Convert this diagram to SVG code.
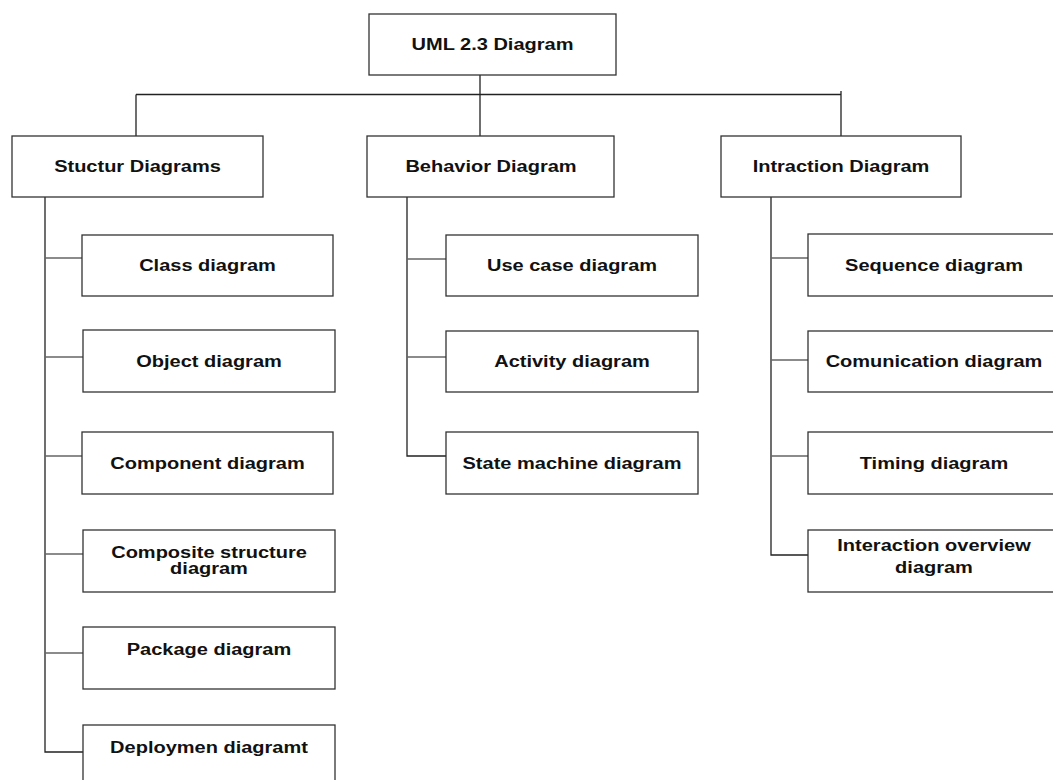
<svg xmlns="http://www.w3.org/2000/svg" width="1053" height="780" viewBox="0 0 1053 780">
<style>
.box{fill:#fff;stroke:#333;stroke-width:1.3}
.lbl{font-family:"Liberation Sans",Arial,sans-serif;font-weight:bold;font-size:16px;fill:#111;text-anchor:middle}
.trunk{stroke:#222;stroke-width:1.3;fill:none}
.br{stroke:#666;stroke-width:1.3;fill:none}
</style>
<rect width="1053" height="780" fill="#fff"/>
<g id="connectors">
<path class="trunk" d="M480,75V136M136,94.5H841M136,94.5V136M841,91V136"/>
<path class="trunk" d="M45,197V752H83"/>
<path class="br" d="M45,258H82M45,357H83M45,456H82M45,554H83M45,653H83"/>
<path class="trunk" d="M407,197V456H446"/>
<path class="br" d="M407,259H446M407,357H446"/>
<path class="trunk" d="M771,197V555H808"/>
<path class="br" d="M771,258H808M771,360H808M771,456H808"/>
</g>
<g id="uml"><rect class="box" x="369" y="14" width="247" height="61"/><text class="lbl" transform="translate(492.5,49.5) scale(1.25,1)">UML 2.3 Diagram</text></g>
<g id="structure"><rect class="box" x="12" y="136" width="251" height="61"/><text class="lbl" transform="translate(137.5,172) scale(1.25,1)">Stuctur Diagrams</text></g>
<g id="behavior"><rect class="box" x="367" y="136" width="247" height="61"/><text class="lbl" transform="translate(491,172) scale(1.25,1)">Behavior Diagram</text></g>
<g id="interaction"><rect class="box" x="721" y="136" width="240" height="61"/><text class="lbl" transform="translate(841,172) scale(1.25,1)">Intraction Diagram</text></g>
<g id="class"><rect class="box" x="82" y="235" width="251" height="61"/><text class="lbl" transform="translate(207.5,270.5) scale(1.25,1)">Class diagram</text></g>
<g id="object"><rect class="box" x="83" y="330" width="252" height="62"/><text class="lbl" transform="translate(209,366.5) scale(1.25,1)">Object diagram</text></g>
<g id="component"><rect class="box" x="82" y="432" width="251" height="62"/><text class="lbl" transform="translate(207.5,468.5) scale(1.25,1)">Component diagram</text></g>
<g id="composite"><rect class="box" x="83" y="530" width="252" height="62"/><text class="lbl" transform="translate(209,557.5) scale(1.25,1)">Composite structure</text><text class="lbl" transform="translate(209,573.5) scale(1.25,1)">diagram</text></g>
<g id="package"><rect class="box" x="83" y="627" width="252" height="62"/><text class="lbl" transform="translate(209,655) scale(1.25,1)">Package diagram</text></g>
<g id="deployment"><rect class="box" x="83" y="725" width="252" height="62"/><text class="lbl" transform="translate(209,753) scale(1.25,1)">Deploymen diagramt</text></g>
<g id="usecase"><rect class="box" x="446" y="235" width="252" height="61"/><text class="lbl" transform="translate(572,271) scale(1.25,1)">Use case diagram</text></g>
<g id="activity"><rect class="box" x="446" y="331" width="252" height="61"/><text class="lbl" transform="translate(572,366.5) scale(1.25,1)">Activity diagram</text></g>
<g id="statemachine"><rect class="box" x="446" y="432" width="252" height="62"/><text class="lbl" transform="translate(572,469) scale(1.25,1)">State machine diagram</text></g>
<g id="sequence"><rect class="box" x="808" y="234" width="252" height="62"/><text class="lbl" transform="translate(934,270.5) scale(1.25,1)">Sequence diagram</text></g>
<g id="communication"><rect class="box" x="808" y="331" width="252" height="61"/><text class="lbl" transform="translate(934,366.5) scale(1.25,1)">Comunication diagram</text></g>
<g id="timing"><rect class="box" x="808" y="432" width="252" height="62"/><text class="lbl" transform="translate(934,468.5) scale(1.25,1)">Timing diagram</text></g>
<g id="overview"><rect class="box" x="808" y="530" width="252" height="62"/><text class="lbl" transform="translate(934,551) scale(1.25,1)">Interaction overview</text><text class="lbl" transform="translate(934,573) scale(1.25,1)">diagram</text></g>
</svg>
